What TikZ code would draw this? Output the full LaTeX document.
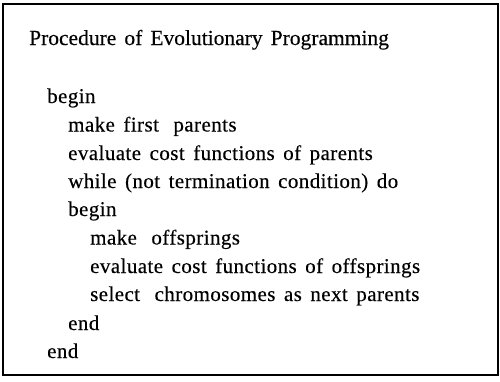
\documentclass[tikz,border=0pt]{standalone}
\usepackage{fontspec}
\setmainfont{Liberation Serif}
\newfontfamily\titlefam[WordSpace=1.5,FakeBold=0.3]{Liberation Serif}
\newfontfamily\bodyfam[LetterSpace=2,WordSpace=1.5,FakeBold=0.3]{Liberation Serif}
\begin{document}
\begin{tikzpicture}[x=1pt,y=-1pt,
  codeline/.style={anchor=base west,inner sep=0pt,font=\bodyfam\fontsize{21pt}{25pt}\selectfont},
  titleline/.style={anchor=base west,inner sep=0pt,font=\titlefam\fontsize{21.5pt}{26pt}\selectfont},
  frame/.style={draw=black,line width=1.3pt}]
\useasboundingbox (0,0) rectangle (500,381);
\draw[frame] (3,4) rectangle (498,375);
\node[titleline] (title) at (29,45) {Procedure of Evolutionary Programming};
\node[codeline] (l1) at (47,103) {begin};
\node[codeline] (l2) at (68,131.5) {make first\hspace{6pt} parents};
\node[codeline] (l3) at (68,160) {evaluate cost functions of parents};
\node[codeline] (l4) at (68,188) {while (not termination condition) do};
\node[codeline] (l5) at (68,216) {begin};
\node[codeline] (l6) at (90,244.5) {make\hspace{6pt} offsprings};
\node[codeline] (l7) at (90,273) {evaluate cost functions of offsprings};
\node[codeline] (l8) at (90,301) {select\hspace{6pt} chromosomes as next parents};
\node[codeline] (l9) at (68,330) {end};
\node[codeline] (l10) at (47,358) {end};
\end{tikzpicture}
\end{document}
